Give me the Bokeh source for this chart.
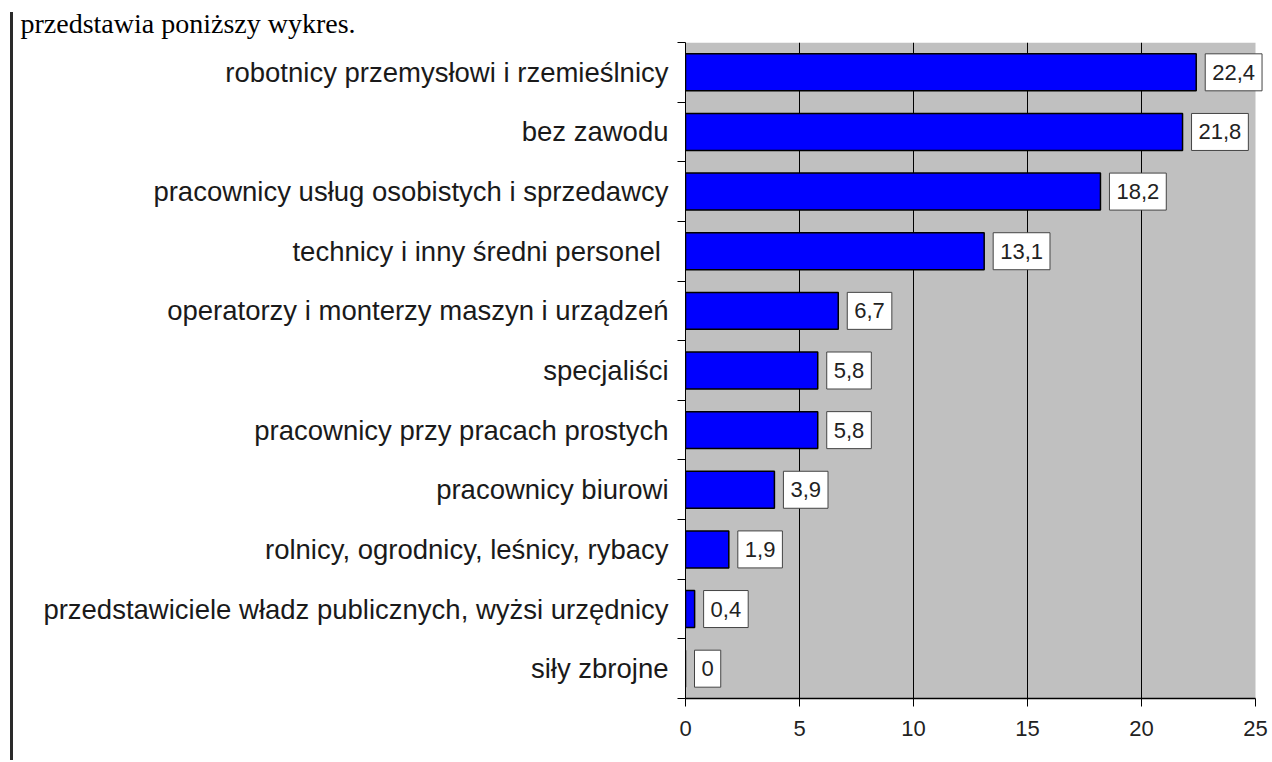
from bokeh.plotting import figure
from bokeh.models import Range1d, FixedTicker, Div, ColumnDataSource, Title
from bokeh.layouts import row
from bokeh.core.properties import value
from bokeh.embed import file_html
from bokeh.resources import INLINE

# ---- data (top to bottom as in the chart) ----
categories = [
    "robotnicy przemysłowi i rzemieślnicy",
    "bez zawodu",
    "pracownicy usług osobistych i sprzedawcy",
    "technicy i inny średni  personel",
    "operatorzy i monterzy maszyn i urządzeń",
    "specjaliści",
    "pracownicy przy pracach prostych",
    "pracownicy biurowi",
    "rolnicy, ogrodnicy, leśnicy, rybacy",
    "przedstawiciele władz publicznych, wyżsi urzędnicy",
    "siły zbrojne",
]
values = [22.4, 21.8, 18.2, 13.1, 6.7, 5.8, 5.8, 3.9, 1.9, 0.4, 0]
x_ticks = [0, 5, 10, 15, 20, 25]
grid_ticks = [5, 10, 15, 20]
heading = "przedstawia poniższy wykres."

n = len(categories)
ypos = [n - 1 - i for i in range(n)]
labels = [f"{v:g}".replace(".", ",") for v in values]

src = ColumnDataSource(dict(cat=categories, val=values, y=ypos, lab=labels))

FONT = "Liberation Sans"

# layout (page pixels)
FIG_X = 13          # figure's left edge on the page
FIG_W = 1259
FRAME_L = 685       # value 0
AXIS_R = 1255       # value 25 (end of grey area)
ppu = (AXIS_R - FRAME_L) / x_ticks[-1]
x_end = x_ticks[-1] + (FIG_X + FIG_W - AXIS_R) / ppu

p = figure(
    width=FIG_W, height=760,
    x_range=Range1d(x_ticks[0], x_end), y_range=Range1d(-0.5, n - 0.5),
    output_backend="svg", toolbar_location=None,
    min_border_left=FRAME_L - FIG_X, min_border_right=0,
    min_border_top=42, min_border_bottom=62,
)
p.background_fill_color = "white"
p.border_fill_color = "white"
p.outline_line_color = None

# grey plot area 0..25
p.quad(left=x_ticks[0], right=x_ticks[-1], bottom=-0.5, top=n - 0.5,
       fill_color="#C0C0C0", line_color=None, level="image")

p.hbar(y="y", left=0, right="val", height=0.62, source=src,
       fill_color="#0000FF", line_color="black", line_width=1.5)

p.text(x="val", y="y", text="lab", source=src,
       x_offset=9, text_align="left", text_baseline="middle",
       text_font=value(FONT), text_font_size="22px", text_color="#222222",
       background_fill_color="white", border_line_color="#444444",
       border_line_width=1, padding=dict(x=7, y=11))

# x axis (baseline drawn only over 0..25)
xa = p.xaxis[0]
xa.ticker = FixedTicker(ticks=x_ticks)
xa.major_tick_out = 8
xa.major_tick_in = 0
xa.minor_tick_line_color = None
xa.axis_line_color = None
xa.major_tick_line_color = "black"
xa.major_label_text_font = FONT
xa.major_label_text_font_size = "22px"
xa.major_label_text_color = "#222222"
xa.major_label_standoff = 14
p.segment(x0=x_ticks[0], y0=-0.5, x1=x_ticks[-1], y1=-0.5,
          line_color="black", line_width=1.5, level="guide")

# y axis
ya = p.yaxis[0]
ya.ticker = FixedTicker(ticks=ypos, minor_ticks=[k - 0.5 for k in range(n + 1)])
ya.major_label_overrides = {y: c for y, c in zip(ypos, categories)}
ya.major_tick_line_color = None
ya.major_tick_out = 0
ya.major_tick_in = 0
ya.minor_tick_out = 8
ya.minor_tick_in = 0
ya.minor_tick_line_color = "black"
ya.axis_line_color = "black"
ya.major_label_text_font = FONT
ya.major_label_text_font_size = "27.5px"
ya.major_label_text_color = "#1a1a1a"
ya.major_label_standoff = 9

p.xgrid.ticker = FixedTicker(ticks=grid_ticks)
p.xgrid.grid_line_color = "black"
p.xgrid.grid_line_width = 1
p.ygrid.grid_line_color = None

# heading text at the top of the page
p.add_layout(Title(text=heading, text_font="Liberation Serif",
                   text_font_size="28px", text_font_style="normal",
                   text_color="black", align="left",
                   offset=20 - FRAME_L, standoff=8), "above")

line = Div(text="", width=3, height=748, margin=(12, 0, 0, 10),
           styles={"background-color": "#2a2a2a"})

layout = row(line, p, spacing=0)

open("out.html", "w").write(file_html(layout, INLINE))
